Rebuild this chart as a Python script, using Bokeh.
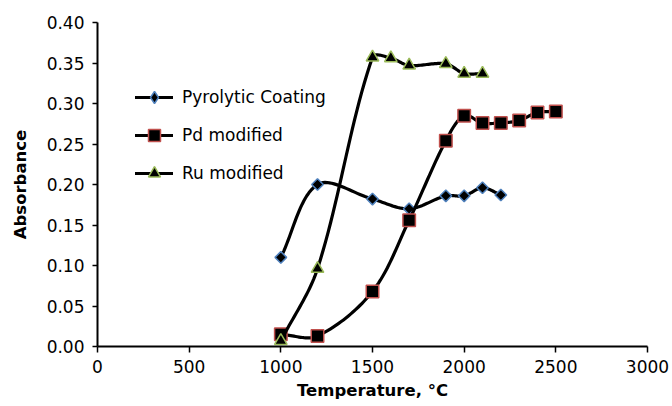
import numpy as np
from bokeh.plotting import figure
from bokeh.models import FixedTicker, PrintfTickFormatter, Legend, LegendItem, Range1d
from bokeh.embed import file_html
from bokeh.resources import INLINE

# ---- data ----
temp_pyro = [1000, 1200, 1500, 1700, 1900, 2000, 2100, 2200]
abs_pyro = [0.110, 0.200, 0.182, 0.170, 0.186, 0.186, 0.196, 0.187]

temp_pd = [1000, 1200, 1500, 1700, 1900, 2000, 2100, 2200, 2300, 2400, 2500]
abs_pd = [0.015, 0.013, 0.068, 0.156, 0.254, 0.285, 0.276, 0.276, 0.279, 0.289, 0.290]

temp_ru = [1000, 1200, 1500, 1600, 1700, 1900, 2000, 2100]
abs_ru = [0.007, 0.096, 0.357, 0.356, 0.347, 0.349, 0.337, 0.337]

series_names = ["Pyrolytic Coating", "Pd modified", "Ru modified"]
x_ticks = [0, 500, 1000, 1500, 2000, 2500, 3000]
y_ticks = [0.00, 0.05, 0.10, 0.15, 0.20, 0.25, 0.30, 0.35, 0.40]

FONT = "DejaVu Sans"
X_MAX, Y_MAX = 3000, 0.40
FRAME_W, FRAME_H = 550, 323.4


def smooth_curve(xs, ys, samples=24):
    """Excel-like smoothed line: cubic Bezier segments through the points,
    control points computed in screen space."""
    sx, sy = FRAME_W / X_MAX, FRAME_H / Y_MAX
    pts = np.column_stack([np.asarray(xs, float) * sx, np.asarray(ys, float) * sy])
    n = len(pts)
    out = []
    t = np.linspace(0, 1, samples)[:, None]
    for i in range(n - 1):
        p0 = pts[max(i - 1, 0)]
        p1 = pts[i]
        p2 = pts[i + 1]
        p3 = pts[min(i + 2, n - 1)]
        d01 = np.linalg.norm(p1 - p0)
        d12 = np.linalg.norm(p2 - p1)
        d23 = np.linalg.norm(p3 - p2)
        c1 = p1 + (p2 - p0) * d12 / (d01 + d12) / 3.0
        c2 = p2 - (p3 - p1) * d12 / (d12 + d23) / 3.0
        seg = ((1 - t) ** 3) * p1 + 3 * ((1 - t) ** 2) * t * c1 + 3 * (1 - t) * t ** 2 * c2 + t ** 3 * p2
        out.append(seg if i == 0 else seg[1:])
    cur = np.vstack(out)
    return cur[:, 0] / sx, cur[:, 1] / sy


p = figure(width=672, height=406, output_backend="svg", toolbar_location=None,
           x_range=Range1d(0, X_MAX), y_range=Range1d(0, Y_MAX),
           min_border_left=97, min_border_right=25, min_border_top=22, min_border_bottom=60)
p.outline_line_color = None
p.grid.visible = False
p.background_fill_color = "white"

specs = [
    (temp_pyro, abs_pyro, "square", 8.2, np.pi / 4, "#4F81BD", "diamond"),
    (temp_pd, abs_pd, "square", 12.5, 0, "#C0504D", "square"),
    (temp_ru, abs_ru, "triangle", 12.5, 0, "#9BBB59", "triangle"),
]

items = []
for (xs, ys, marker, size, ang, edge, leg_marker), name in zip(specs, series_names):
    cx, cy = smooth_curve(xs, ys)
    lr = p.line(cx, cy, line_color="black", line_width=3.2, line_cap="round", line_join="round")
    sr = p.scatter(xs, ys, marker=marker, size=size, angle=ang, fill_color="black",
                   line_color=edge, line_width=1.5)
    if leg_marker != marker:
        # legend-only marker shape (not drawn on the plot)
        lg = p.scatter(xs, ys, marker=leg_marker, size=size, fill_color="black",
                       line_color=edge, line_width=1.5, visible=False)
        items.append(LegendItem(label=name, renderers=[lr, lg]))
    else:
        items.append(LegendItem(label=name, renderers=[lr, sr]))

legend = Legend(items=items, location=(38, 158), padding=0, margin=0, spacing=8,
                glyph_width=38, glyph_height=30, label_height=30, label_standoff=9,
                label_text_font=FONT, label_text_font_size="17px", label_text_color="black",
                border_line_color=None, background_fill_alpha=0)
p.add_layout(legend, "center")

for ax in (p.xaxis[0], p.yaxis[0]):
    ax.axis_line_width = 2
    ax.axis_line_color = "black"
    ax.major_tick_line_width = 1.5
    ax.major_tick_line_color = "black"
    ax.major_tick_in = 0
    ax.minor_tick_line_color = None
    ax.major_label_text_font = FONT
    ax.major_label_text_font_size = "17px"
    ax.major_label_text_color = "black"
    ax.axis_label_text_font = FONT
    ax.axis_label_text_font_size = "16.5px"
    ax.axis_label_text_font_style = "bold"
    ax.axis_label_text_color = "black"

p.xaxis.ticker = FixedTicker(ticks=x_ticks)
p.xaxis.major_tick_out = 6
p.xaxis.major_label_standoff = 7
p.xaxis.axis_label = "Temperature, °C"
p.xaxis.axis_label_standoff = 5

p.yaxis.ticker = FixedTicker(ticks=y_ticks)
p.yaxis.formatter = PrintfTickFormatter(format="%.2f")
p.yaxis.major_tick_out = 5
p.yaxis.major_label_standoff = 8
p.yaxis.axis_label = "Absorbance"
p.yaxis.axis_label_standoff = 14

open("out.html", "w").write(file_html(p, INLINE))
